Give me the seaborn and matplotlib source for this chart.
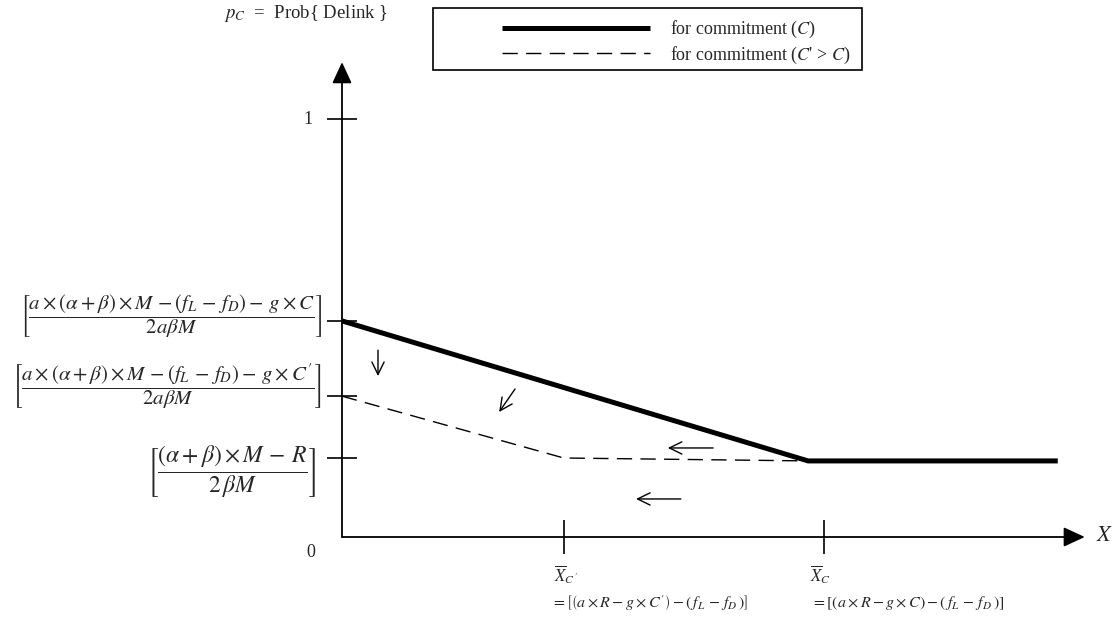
import matplotlib
matplotlib.use("Agg")
import matplotlib.pyplot as plt
from matplotlib.patches import Rectangle
import pandas as pd
import seaborn as sns

# Delink probability against X, for commitment C and for a higher commitment C' > C
x_commit = [0.0, 0.967, 1.485]
p_commit = [0.517, 0.182, 0.182]
x_commit_hi = [0.0, 0.46, 0.967]
p_commit_hi = [0.337, 0.189, 0.182]

series_labels = [r"for commitment ($C$)", r"for commitment ($C$' > $C$)"]

# marked levels on the probability axis and thresholds on the X axis
p_tick_values = [1.0, 0.517, 0.337, 0.19]
x_tick_values = [0.46, 1.0]

p_level_labels = [
    r"$\left[\dfrac{a\times(\alpha+\beta)\times M\,-\left(f_L\,-\,f_D\right)-\,g\times C}{2a\beta M}\right]$",
    r"$\left[\dfrac{a\times(\alpha+\beta)\times M\,-\left(f_L\,-\,f_D\right)-\,g\times C'}{2a\beta M}\right]$",
    r"$\left[\dfrac{(\alpha+\beta)\times M\,-\,R}{2\,\beta M}\right]$",
]
x_threshold_symbols = [r"$\overline{X}_{C\,'}$", r"$\overline{X}_{C}$"]
x_threshold_formulas = [
    r"$=\left[\left(a\times R-g\times C'\right)-\left(\,f_L\,-\,f_D\,\right)\right]$",
    r"$=\left[\left(a\times R-g\times C\right)-\left(\,f_L\,-\,f_D\,\right)\right]$",
]

sns.set_theme(style="white")
plt.rcParams.update({
    "font.family": ["Liberation Serif", "DejaVu Serif"],
    "mathtext.fontset": "stix",
    "axes.facecolor": "white",
    "figure.facecolor": "white",
})

W, H = 1116, 629
fig = plt.figure(figsize=(W / 100, H / 100), dpi=100)
ax = fig.add_axes([0, 0, 1, 1])
ax.set_xlim(-0.7095, 1.6058)
ax.set_ylim(-0.2201, 1.2847)

df_c = pd.DataFrame({"x": x_commit, "p": p_commit})
df_hi = pd.DataFrame({"x": x_commit_hi, "p": p_commit_hi})
sns.lineplot(data=df_c, x="x", y="p", sort=False, estimator=None, color="black",
             lw=3.6, solid_capstyle="butt", ax=ax, label=series_labels[0])
sns.lineplot(data=df_hi, x="x", y="p", sort=False, estimator=None, color="black",
             lw=1.0, linestyle=(0, (11, 6)), ax=ax, label=series_labels[1])
line_c, line_hi = ax.lines[0], ax.lines[1]
ax.set_xlabel("")
ax.set_ylabel("")

# axes drawn through the origin, with arrow heads
for s in ax.spines.values():
    s.set_visible(False)
ax.spines["left"].set_position(("data", 0))
ax.spines["bottom"].set_position(("data", 0))
ax.grid(False)
arrow_axis = dict(arrowstyle="-|>,head_length=0.65,head_width=0.3", lw=1.3,
                  color="black", shrinkA=0, shrinkB=0, mutation_scale=20)
ax.annotate("", xy=(0, 1.136), xytext=(0, 0), arrowprops=arrow_axis)
ax.annotate("", xy=(1.541, 0), xytext=(0, 0), arrowprops=arrow_axis)

ax.set_yticks(p_tick_values)
ax.set_xticks(x_tick_values)
ax.tick_params(axis="y", left=True, right=False, direction="inout", length=21,
               width=1.2, color="black", labelleft=False)
ax.tick_params(axis="x", bottom=True, top=False, direction="inout", length=24,
               width=1.2, color="black", labelbottom=False)

# axis annotations
ax.text(-0.0705, 1.0, "1", ha="center", va="center", fontsize=13)
ax.text(-0.064, -0.038, "0", ha="center", va="center", fontsize=13)
ax.text(1.583, 0.0, r"$X$", ha="center", va="center", fontsize=16)
fig.text(306 / W, 1 - 13 / H, r"$p_{C}$  =  Prob{ Delink }", ha="center",
         va="center", fontsize=13.5)

# formula labels sit slightly off their tick levels
for val, lab, xr, dy, fs in zip(p_tick_values[1:], p_level_labels,
                                [-0.041, -0.041, -0.054],
                                [0.010, 0.024, -0.036], [15, 15, 17]):
    ax.text(xr, val + dy, lab, ha="right", va="center", fontsize=fs)

for xv, sym, form, dx in zip(x_tick_values, x_threshold_symbols,
                             x_threshold_formulas, [-0.021, -0.029]):
    ax.text(xv + dx, -0.091, sym, ha="left", va="center", fontsize=12)
    ax.text(xv - 0.027, -0.158, form, ha="left", va="center", fontsize=11.5)

# direction of the shift when commitment rises
arrow_small = dict(arrowstyle="->,head_length=0.45,head_width=0.22", lw=1.0,
                   color="black", shrinkA=0, shrinkB=0, mutation_scale=20)
for (x0, y0), (x1, y1) in [((0.0747, 0.447), (0.0747, 0.385)),
                           ((0.359, 0.354), (0.326, 0.299)),
                           ((0.770, 0.213), (0.676, 0.213)),
                           ((0.703, 0.091), (0.610, 0.091))]:
    ax.annotate("", xy=(x1, y1), xytext=(x0, y0), arrowprops=arrow_small)

# legend box
fig.add_artist(Rectangle((433 / W, 1 - 70 / H), 429 / W, 62 / H,
                         transform=fig.transFigure, fill=False, lw=1.2,
                         ec="black"))
ax.legend(handles=[line_c, line_hi], labels=series_labels, loc="upper left",
          bbox_to_anchor=(502 / W, 1 - 19 / H), bbox_transform=fig.transFigure,
          frameon=False, borderpad=0, borderaxespad=0, handlelength=8.2,
          handletextpad=1.1, labelspacing=0.25, fontsize=13)

fig.savefig("out.png", dpi=100)
